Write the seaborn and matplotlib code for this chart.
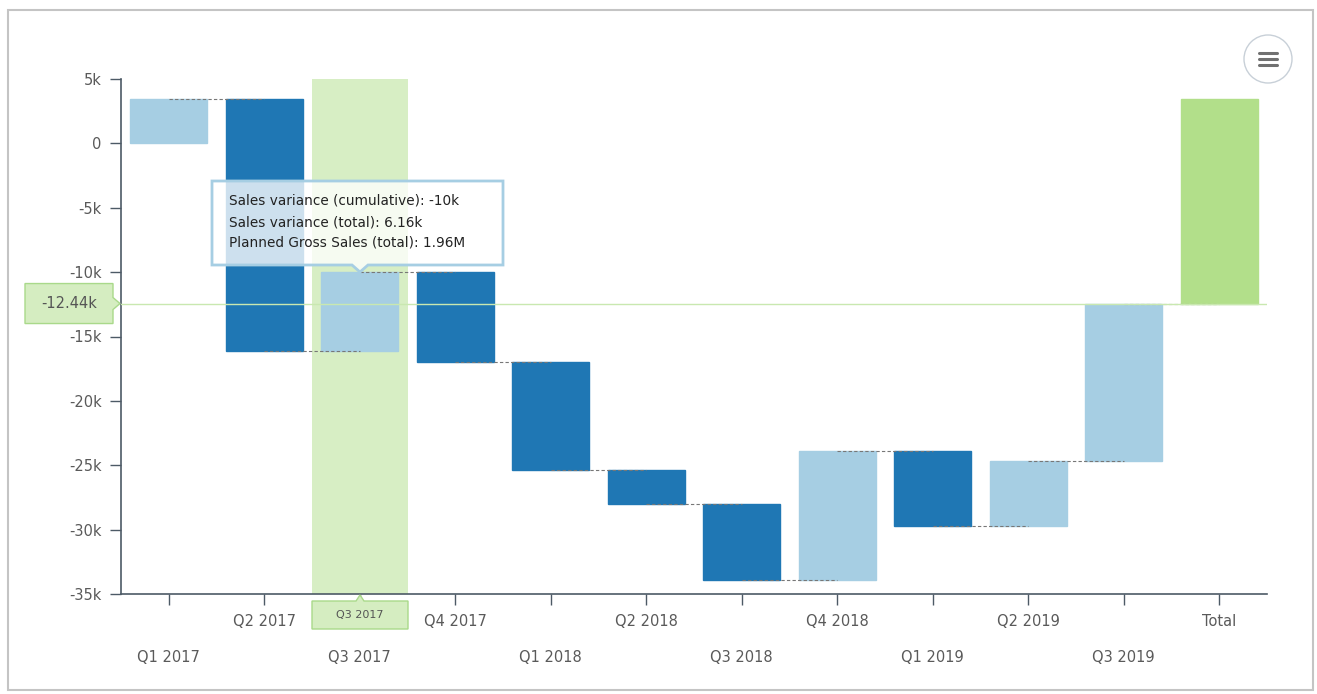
import matplotlib
matplotlib.use("Agg")
import matplotlib.pyplot as plt
import matplotlib.patches as mpatches
import numpy as np
import seaborn as sns

# quarterly sales variance steps (k), cumulative waterfall
quarters = ["Q1 2017", "Q2 2017", "Q3 2017", "Q4 2017", "Q1 2018", "Q2 2018",
            "Q3 2018", "Q4 2018", "Q1 2019", "Q2 2019", "Q3 2019"]
changes = [3.44, -19.6, 6.16, -7.0, -8.4, -2.64, -5.87, 10.0, -5.78, 5.0, 12.25]
total_label = "Total"
total_top = 3.44
crosshair_value = -12.44
highlight = "Q3 2017"
tooltip_lines = ["Sales variance (cumulative): -10k",
                 "Sales variance (total): 6.16k",
                 "Planned Gross Sales (total): 1.96M"]
yticks = [5, 0, -5, -10, -15, -20, -25, -30, -35]

W, H = 1317, 694
DARK = "#1f77b4"
LIGHT = "#a6cee3"
GREEN = "#b2df8a"
BAND = "#d7eec4"
TXT = "#5a5a5a"

sns.set_theme(style="white")
plt.rcParams["font.family"] = ["DejaVu Sans"]

cum = np.cumsum(changes)
starts = np.concatenate([[0], cum[:-1]])
bottoms = list(np.minimum(starts, cum)) + [cum[-1]]
heights = list(np.abs(changes)) + [total_top - cum[-1]]
cats = quarters + [total_label]
colors = [LIGHT if c > 0 else DARK for c in changes] + [GREEN]


def fx(px):
    return px / W


def fy(py):
    return 1 - py / H


fig = plt.figure(figsize=(W / 100, H / 100), dpi=100)
ax = fig.add_axes([fx(121), fy(594), fx(1267) - fx(121), fy(79) - fy(594)])

sns.barplot(x=cats, y=heights, bottom=bottoms, width=0.81, ax=ax,
            color=DARK, saturation=1, zorder=3, linewidth=1)
for p, c in zip(ax.patches, colors):
    p.set_facecolor(c)
    p.set_edgecolor(c)

# highlighted category band
hi = cats.index(highlight)
ax.axvspan(hi - 0.5, hi + 0.5, color=BAND, zorder=0, lw=0)

# connector dashes between bar centers
levels = list(cum)
for i, lv in enumerate(levels):
    ax.plot([i, i + 1], [lv, lv], ls=(0, (3, 2)), color="#777777", lw=0.8, zorder=4)

ax.set_ylim(-35, 5)
ax.set_xlim(-0.5, len(cats) - 0.5)
ax.set_yticks(yticks)
ax.set_yticklabels(["0" if v == 0 else f"{v}k" for v in yticks])
ax.tick_params(axis="y", length=8, width=1, color="#4d5a66", labelsize=10.5,
               labelcolor=TXT, left=True, pad=6)
ax.tick_params(axis="x", length=8, width=1, color="#4d5a66", bottom=True,
               labelbottom=False)
for s in ["top", "right"]:
    ax.spines[s].set_visible(False)
for s in ["left", "bottom"]:
    ax.spines[s].set_color("#4d5a66")
    ax.spines[s].set_linewidth(1.2)
ax.set_xlabel("")
ax.set_ylabel("")

# staggered category labels
for i, c in enumerate(cats):
    ypix = 621 if i % 2 == 1 else 657
    fig.text(fx(121) + (i + 0.5) / len(cats) * (fx(1267) - fx(121)), fy(ypix), c,
             ha="center", va="center", fontsize=10.5, color=TXT)

# crosshair line and label
ax.axhline(crosshair_value, color="#c9e8b0", lw=1, zorder=5)
yline = 79 + (5 - crosshair_value) / 40 * 515
lab = mpatches.Polygon([(fx(25), fy(yline - 20)), (fx(113), fy(yline - 20)),
                        (fx(113), fy(yline - 6)), (fx(120), fy(yline)),
                        (fx(113), fy(yline + 6)), (fx(113), fy(yline + 20)),
                        (fx(25), fy(yline + 20))],
                       closed=True, transform=fig.transFigure, facecolor="#d5edc1",
                       edgecolor="#a9d98a", lw=1)
fig.patches.append(lab)
fig.text(fx(69), fy(yline), f"{crosshair_value:.2f}k", ha="center", va="center",
         fontsize=10.5, color="#555555")

# highlighted x label box
xl = 121 + hi * (1146 / len(cats))
box = mpatches.Polygon([(fx(xl), fy(601)), (fx(xl + 44), fy(601)), (fx(xl + 48), fy(595)),
                        (fx(xl + 52), fy(601)), (fx(xl + 96), fy(601)),
                        (fx(xl + 96), fy(629)), (fx(xl), fy(629))],
                       closed=True, transform=fig.transFigure, facecolor="#d5edc1",
                       edgecolor="#a9d98a", lw=1)
fig.patches.append(box)
fig.text(fx(xl + 48), fy(615), highlight, ha="center", va="center", fontsize=8, color="#555555")

# tooltip
tip = mpatches.Polygon([(fx(212), fy(181)), (fx(503), fy(181)), (fx(503), fy(265)),
                        (fx(368), fy(265)), (fx(360), fy(272)), (fx(352), fy(265)),
                        (fx(212), fy(265))],
                       closed=True, transform=fig.transFigure, facecolor=(1, 1, 1, 0.78),
                       edgecolor="#a6cee3", lw=2, zorder=10)
fig.patches.append(tip)
for k, line in enumerate(tooltip_lines):
    fig.text(fx(229), fy(201 + k * 21), line, ha="left", va="center", fontsize=9.8,
             color="#222222", zorder=11)

# menu button
circ = mpatches.Ellipse((fx(1268), fy(59)), 48 / W, 48 / H, transform=fig.transFigure,
                        facecolor="white", edgecolor="#c8d0d8", lw=1)
fig.patches.append(circ)
for dy in (-6, 0, 6):
    fig.add_artist(plt.Line2D([fx(1259), fx(1277)], [fy(59 + dy), fy(59 + dy)],
                              color="#707070", lw=2.2, solid_capstyle="round",
                              transform=fig.transFigure))

# outer frame
frame = mpatches.Rectangle((fx(8), fy(690)), fx(1313) - fx(8), fy(10) - fy(690),
                           transform=fig.transFigure, fill=False, edgecolor="#c4c4c4", lw=1.5)
fig.patches.append(frame)

fig.savefig("out.png", dpi=100)
